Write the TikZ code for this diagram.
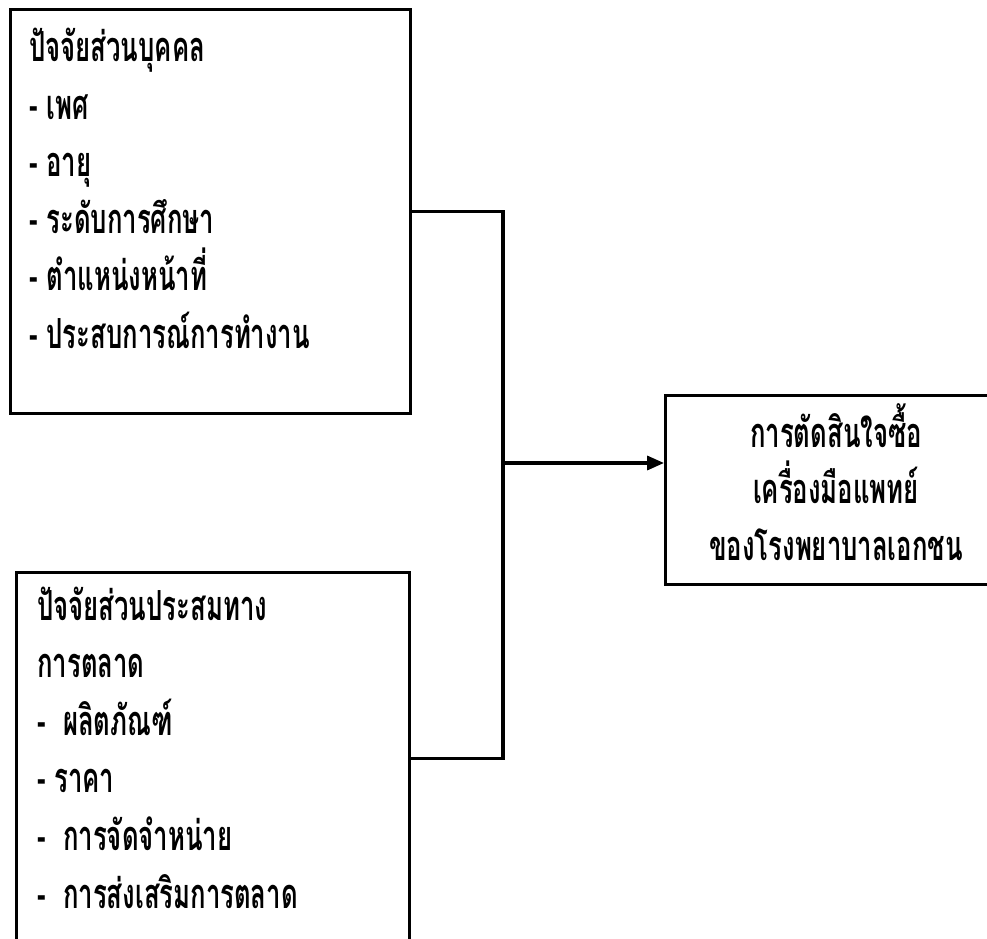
\documentclass[tikz,border=0pt]{standalone}
\usepackage{fontspec}
\newfontfamily\thaifont[Script=Thai,FakeStretch=0.62]{Loma}
\usetikzlibrary{arrows.meta}

\begin{document}
\begin{tikzpicture}[x=0.025cm,y=-0.025cm,
	box/.style={draw,line width=2.2pt,rectangle,anchor=north west,inner sep=0pt},
	line/.style={font=\thaifont\bfseries\fontsize{29.5}{34}\selectfont,inner sep=0pt,anchor=base west},
	link/.style={line width=2.2pt}]
	\useasboundingbox (0,0) rectangle (987,939);
	\clip (0,0) rectangle (987,939);
	% boxes
	\node[box,minimum width=10cm,minimum height=10.1cm] (pf) at (9,8) {};
	\node[box,minimum width=9.825cm,minimum height=9.3cm] (mf) at (15,571) {};
	\node[box,minimum width=8.55cm,minimum height=4.725cm] (out) at (664,394) {};
	% personal factors
	\foreach \t [count=\i] in {ปัจจัยส่วนบุคคล, - เพศ, - อายุ, - ระดับการศึกษา,
		- ตำแหน่งหน้าที่, - ประสบการณ์การทำงาน}
		\node[line] (p\i) at (29,{62+57.2*(\i-1)}) {\t};
	% marketing mix
	\foreach \t [count=\i] in {ปัจจัยส่วนประสมทาง, การตลาด, -\ \ ผลิตภัณฑ์, - ราคา,
		-\ \ การจัดจำหน่าย, -\ \ การส่งเสริมการตลาด}
		\node[line] (m\i) at (37,{620+57.6*(\i-1)}) {\t};
	% decision
	\foreach \t/\y [count=\i] in {การตัดสินใจซื้อ/447, เครื่องมือแพทย์/503, ของโรงพยาบาลเอกชน/560}
		\node[line,anchor=base] (d\i) at (836,\y) {\t};
	% connectors
	\coordinate (split) at (503,463);
	\draw[link] (pf.east) -- (split |- pf.east) -- (split |- mf.east) -- (mf.east);
	\draw[link,-{Triangle[length=12pt,width=10pt]}] (split) -- (split -| out.west);
\end{tikzpicture}
\end{document}
